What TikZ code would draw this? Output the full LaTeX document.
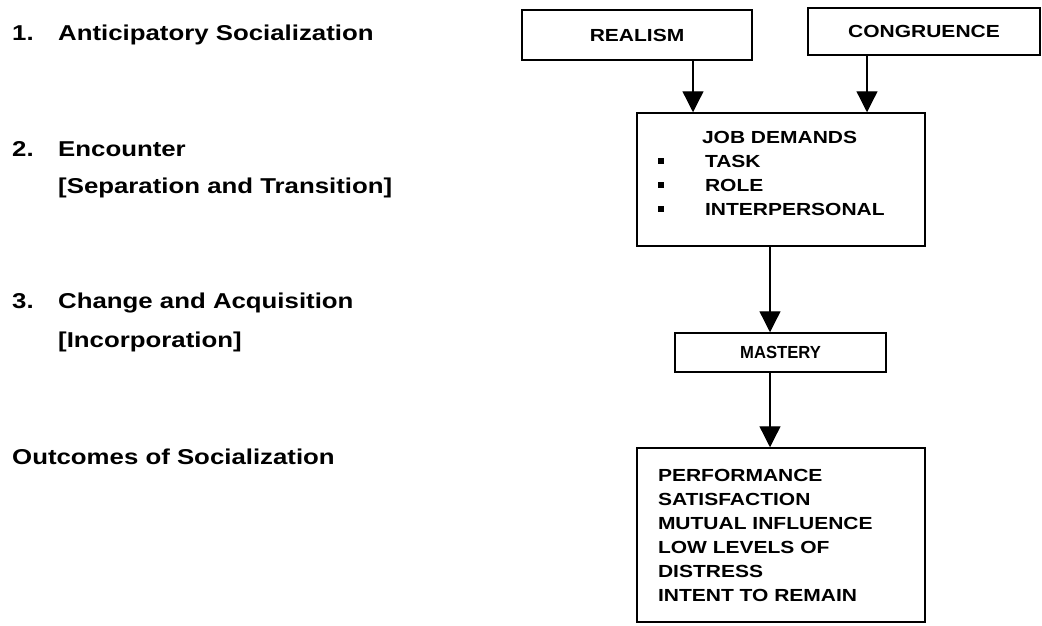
\documentclass[tikz,border=0pt]{standalone}
\usepackage{fontspec}
\setmainfont{Liberation Sans}[FakeStretch=1.2]
\newfontfamily\narrowfont{Liberation Sans}[FakeStretch=0.95]
\usetikzlibrary{arrows.meta}

\tikzset{
  box/.style={draw, line width=1.5pt, inner sep=0pt, font=\bfseries\fontsize{17.5}{24}\selectfont},
  flow/.style={line width=1.3pt, -{Triangle[width=21pt,length=21pt]}},
  stage/.style={anchor=base west, inner sep=0pt, font=\bfseries\fontsize{21.5}{26}\selectfont}
}
\newcommand{\sqbullet}{\makebox[47pt][l]{\rule[4pt]{5.5pt}{5.5pt}}}

\begin{document}
\begin{tikzpicture}[x=1pt,y=-1pt]
  \useasboundingbox (0,0) rectangle (1042,625);

  % stages of socialization
  \node[stage] (n1) at (12,40) {1.};
  \node[stage] (s1) at (58,40) {Anticipatory Socialization};
  \node[stage] (n2) at (12,156) {2.};
  \node[stage] (s2) at (58,156) {Encounter};
  \node[stage] (s2b) at (58,193) {[Separation and Transition]};
  \node[stage] (n3) at (12,308) {3.};
  \node[stage] (s3) at (58,308) {Change and Acquisition};
  \node[stage] (s3b) at (58,347) {[Incorporation]};
  \node[stage] (out) at (12,464) {Outcomes of Socialization};

  % boxes
  \node[box, minimum width=230pt, minimum height=50pt] (realism) at (637,35) {REALISM};
  \node[box, minimum width=232pt, minimum height=47pt] (congruence) at (924,31.5) {CONGRUENCE};
  \node[box, minimum width=288pt, minimum height=133pt, text width=246pt, align=left] (jobs) at (781,179.5)
    {\hspace*{44pt}JOB DEMANDS\\ \sqbullet TASK\\ \sqbullet ROLE\\ \sqbullet INTERPERSONAL\\[-12pt]\mbox{}};
  \node[box, minimum width=211pt, minimum height=39pt, font=\narrowfont\bfseries\fontsize{17.5}{20}\selectfont] (mastery) at (780.5,352.5) {MASTERY};
  \node[box, minimum width=288pt, minimum height=174pt, text width=246pt, align=left] (outcomes) at (781,535)
    {PERFORMANCE\\ SATISFACTION\\ MUTUAL INFLUENCE\\ LOW LEVELS OF\\ DISTRESS\\ INTENT TO REMAIN};

  % arrows
  \coordinate (ra) at (693,0);
  \coordinate (ca) at (867,0);
  \coordinate (ma) at (770,0);
  \draw[flow] (realism.south -| ra) -- (jobs.north -| ra);
  \draw[flow] (congruence.south -| ca) -- (jobs.north -| ca);
  \draw[flow] (jobs.south -| ma) -- (mastery.north -| ma);
  \draw[flow] (mastery.south -| ma) -- (outcomes.north -| ma);
\end{tikzpicture}
\end{document}
